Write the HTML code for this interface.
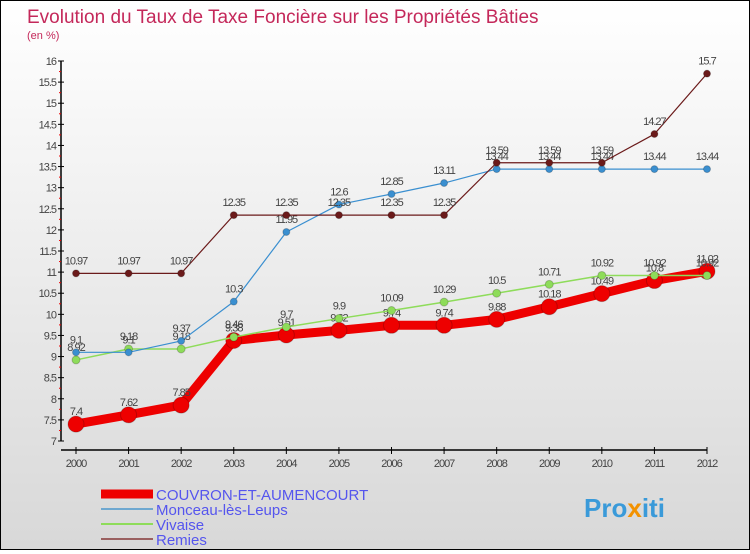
<!DOCTYPE html>
<html><head><meta charset="utf-8"><style>
html,body{margin:0;padding:0}
body{width:750px;height:550px;overflow:hidden;font-family:"Liberation Sans",sans-serif}
#c{position:absolute;left:0;top:0;width:748px;height:548px;border:1px solid #000;background:linear-gradient(#fff,#d8d8d8)}
</style></head><body>
<div id="c">
<svg id="s" width="748" height="548" xmlns="http://www.w3.org/2000/svg">
<text x="26" y="22" font-size="19" fill="#c4285a">Evolution du Taux de Taxe Foncière sur les Propriétés Bâties</text>
<text x="26" y="38" font-size="11" fill="#c4285a">(en %)</text>
<g id="axes"></g><g id="series"></g><g id="legend"></g>
<text x="583" y="516" font-size="26" font-weight="bold" fill="#3a9ad9">Pro<tspan fill="#f39200">x</tspan>iti</text>
</svg></div>
<script>
const years=[2000,2001,2002,2003,2004,2005,2006,2007,2008,2009,2010,2011,2012];
const couvron=[7.4,7.62,7.85,9.38,9.51,9.62,9.74,9.74,9.88,10.18,10.49,10.8,11.02];
const monceau=[9.1,9.1,9.37,10.3,11.95,12.6,12.85,13.11,13.44,13.44,13.44,13.44,13.44];
const vivaise=[8.92,9.18,9.18,9.46,9.7,9.9,10.09,10.29,10.5,10.71,10.92,10.92,10.92];
const remies=[10.97,10.97,10.97,12.35,12.35,12.35,12.35,12.35,13.59,13.59,13.59,14.27,15.7];
const yTicks=[7,7.5,8,8.5,9,9.5,10,10.5,11,11.5,12,12.5,13,13.5,14,14.5,15,15.5,16];
const NS="http://www.w3.org/2000/svg";
const x=i=>75+i*(706-75)/(years.length-1);
const y=v=>440-(v-7)*(380/9);
function mk(t,a,p){const e=document.createElementNS(NS,t);for(const k in a)e.setAttribute(k,a[k]);p.appendChild(e);return e;}
const ax=document.getElementById('axes');
let l=mk('line',{x1:60,y1:y(16),x2:60,y2:y(7),stroke:'#000','stroke-width':1.5},ax);


for(let v=7;v<=16.001;v+=0.25){const major=Math.abs(v*2-Math.round(v*2))<1e-6;
 mk('line',{x1:major?57:58,y1:y(v),x2:major?63:60,y2:y(v),stroke:major?'#000':'#e00','stroke-width':1},ax);}
yTicks.forEach(v=>{const t=mk('text',{x:55,y:y(v)+4,'font-size':11,'text-anchor':'end',fill:'#444','letter-spacing':'-1'},ax);t.textContent=v;
 
 });
l=mk('line',{x1:60,y1:449,x2:706,y2:449,stroke:'#000','stroke-width':1.5},ax);


years.forEach((yr,i)=>{mk('line',{x1:x(i),y1:446,x2:x(i),y2:453,stroke:'#000'},ax);
 const t=mk('text',{x:x(i),y:466,'font-size':11,'text-anchor':'middle',fill:'#444','letter-spacing':'-1'},ax);t.textContent=yr;
 
 });
const sg=document.getElementById('series');
const defs=[
 {d:remies,c:'#6b1a1a',w:1.2,r:3.5,n:'remies'},
 {d:monceau,c:'#3a8fd0',w:1.2,r:3.5,n:'monceau-les-leups'},
 {d:vivaise,c:'#8edc5a',w:1.5,r:4,n:'vivaise'},
 {d:couvron,c:'#ee0000',w:9,r:8,n:'couvron-et-aumencourt'}];
defs.slice().reverse().forEach(s=>{
 const g=mk('g',{},sg);
 
 
 const p=mk('polyline',{points:s.d.map((v,i)=>x(i)+','+y(v)).join(' '),fill:'none',stroke:s.c,'stroke-width':s.w,'stroke-linejoin':'round'},g);
 
 
 s.d.forEach((v,i)=>{const c=mk('circle',{cx:x(i),cy:y(v),r:s.r,fill:s.c,stroke:'rgba(0,0,0,0.2)'},g);
  
  
  const t=mk('text',{x:x(i),y:y(v)-9,'font-size':11,'text-anchor':'middle',fill:'#444','letter-spacing':'-1'},g);t.textContent=v;
  
  });
});
const lg=document.getElementById('legend');
[{n:'COUVRON-ET-AUMENCOURT',c:'#ee0000',w:9},{n:'Monceau-lès-Leups',c:'#6fa8d0',w:2},{n:'Vivaise',c:'#8edc5a',w:2},{n:'Remies',c:'#9a6060',w:2}].forEach((e,i)=>{
 const yy=493+i*15;
 const g=mk('g',{},lg);
 
 
 mk('line',{x1:100,y1:yy,x2:152,y2:yy,stroke:e.c,'stroke-width':e.w},g);
 const t=mk('text',{x:155,y:yy+6,'font-size':15,fill:'#5555ee'},g);t.textContent=e.n;
});
</script>
</body></html>
